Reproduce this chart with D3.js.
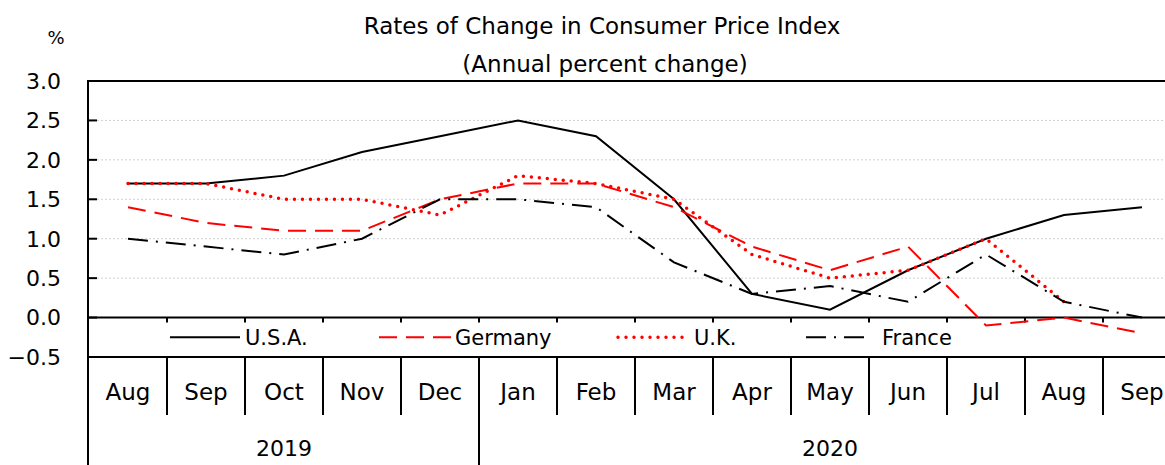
<!DOCTYPE html>
<html>
<head>
<script src="https://d3js.org/d3.v7.min.js"></script>
<style>
  body { margin: 0; background: #fff; }
  text { font-family: "DejaVu Sans", sans-serif; fill: #000; }
</style>
</head>
<body>
<script>
// Data
const months = ["Aug", "Sep", "Oct", "Nov", "Dec", "Jan", "Feb", "Mar", "Apr", "May", "Jun", "Jul", "Aug", "Sep"];
const years = [{ label: "2019", from: 0, to: 5 }, { label: "2020", from: 5, to: 14 }];
const usa = [1.7, 1.7, 1.8, 2.1, 2.3, 2.5, 2.3, 1.5, 0.3, 0.1, 0.6, 1.0, 1.3, 1.4];
const germany = [1.4, 1.2, 1.1, 1.1, 1.5, 1.7, 1.7, 1.4, 0.9, 0.6, 0.9, -0.1, 0.0, -0.2];
const uk = [1.7, 1.7, 1.5, 1.5, 1.3, 1.8, 1.7, 1.5, 0.8, 0.5, 0.6, 1.0, 0.2];
const france = [1.0, 0.9, 0.8, 1.0, 1.5, 1.5, 1.4, 0.7, 0.3, 0.4, 0.2, 0.8, 0.2, 0.0];
const yTicks = [3.0, 2.5, 2.0, 1.5, 1.0, 0.5, 0.0, -0.5];

const series = [
  { name: "U.S.A.", values: usa, color: "#000", dash: null, cap: "butt", lx: 170, len: 70, tx: 75 },
  { name: "Germany", values: germany, color: "#ff0000", dash: "18,9", cap: "butt", lx: 379, len: 72, tx: 76 },
  { name: "U.K.", values: uk, color: "#ff0000", dash: "0,8", cap: "round", lx: 618, len: 68, tx: 76, w: 3.5 },
  { name: "France", values: france, color: "#000", dash: "20,8,2,8", cap: "butt", lx: 806, len: 61, tx: 76 }
];

const W = 1165, H = 465;
const left = 89, bandW = 78;
const svg = d3.select("body").append("svg").attr("width", W).attr("height", H);

const x = d3.scaleBand().domain(d3.range(months.length)).range([left, left + bandW * months.length]);
const y = d3.scaleLinear().domain([-0.5, 3.0]).range([357, 81]);

// grid lines
svg.append("g").selectAll("line").data([2.5, 2.0, 1.5, 1.0, 0.5]).join("line")
  .attr("x1", left).attr("x2", W).attr("y1", d => y(d)).attr("y2", d => y(d))
  .attr("stroke", "#d0d0d0").attr("stroke-width", 1).attr("stroke-dasharray", "2,2");

// frame lines
svg.append("line").attr("x1", left).attr("x2", W).attr("y1", y(3)).attr("y2", y(3)).attr("stroke", "#000").attr("stroke-width", 2);
svg.append("line").attr("x1", left).attr("x2", W).attr("y1", y(0)).attr("y2", y(0)).attr("stroke", "#000").attr("stroke-width", 2);
svg.append("line").attr("x1", left).attr("x2", W).attr("y1", y(-0.5)).attr("y2", y(-0.5)).attr("stroke", "#000").attr("stroke-width", 2);
svg.append("line").attr("x1", left - 1).attr("x2", left - 1).attr("y1", y(3) - 1).attr("y2", H).attr("stroke", "#000").attr("stroke-width", 2);

// y ticks (inward) and labels
svg.append("g").selectAll("line").data(yTicks).join("line")
  .attr("x1", left).attr("x2", left + 8).attr("y1", d => y(d)).attr("y2", d => y(d))
  .attr("stroke", "#000").attr("stroke-width", 2);
svg.append("g").selectAll("text").data(yTicks).join("text")
  .attr("x", 61).attr("y", d => y(d)).attr("dy", "0.36em")
  .attr("text-anchor", "end").style("font-size", "22px")
  .text(d => (d < 0 ? "\u2212" + Math.abs(d).toFixed(1) : d.toFixed(1)));

// small ticks on zero line
svg.append("g").selectAll("line").data(d3.range(1, months.length)).join("line")
  .attr("x1", d => x(d)).attr("x2", d => x(d)).attr("y1", y(0)).attr("y2", y(0) + 5)
  .attr("stroke", "#000").attr("stroke-width", 2);

// month separators and labels
svg.append("g").selectAll("line").data(d3.range(1, months.length)).join("line")
  .attr("x1", d => x(d)).attr("x2", d => x(d)).attr("y1", y(-0.5)).attr("y2", 415)
  .attr("stroke", "#000").attr("stroke-width", 2);
svg.append("g").selectAll("text").data(months).join("text")
  .attr("x", (d, i) => x(i) + bandW / 2).attr("y", 392).attr("dy", "0.36em")
  .attr("text-anchor", "middle").style("font-size", "23px").text(d => d);

// year row
svg.append("g").selectAll("line").data(years.slice(1)).join("line")
  .attr("x1", d => x(d.from)).attr("x2", d => x(d.from)).attr("y1", 415).attr("y2", H)
  .attr("stroke", "#000").attr("stroke-width", 2);
svg.append("g").selectAll("text").data(years).join("text")
  .attr("x", d => (x(d.from) + left + bandW * d.to) / 2).attr("y", 448).attr("dy", "0.36em")
  .attr("text-anchor", "middle").style("font-size", "22px").text(d => d.label);

// lines
const line = d3.line().x((d, i) => x(i) + bandW / 2).y(d => y(d));
svg.append("g").selectAll("path").data(series).join("path")
  .attr("d", d => line(d.values))
  .attr("fill", "none").attr("stroke", d => d.color)
  .attr("stroke-width", d => d.w || 2)
  .attr("stroke-dasharray", d => d.dash)
  .attr("stroke-linecap", d => d.cap);

// legend
const lg = svg.append("g").selectAll("g").data(series).join("g")
  .attr("transform", d => `translate(${d.lx},${y(-0.25)})`);
lg.append("line").attr("x1", 0).attr("x2", d => d.len).attr("y1", 0).attr("y2", 0)
  .attr("stroke", d => d.color).attr("stroke-width", d => d.w || 2)
  .attr("stroke-dasharray", d => d.dash).attr("stroke-linecap", d => d.cap);
lg.append("text").attr("x", d => d.tx).attr("y", 0).attr("dy", "0.36em")
  .style("font-size", "21px").text(d => d.name);

// titles
svg.append("text").attr("x", 602).attr("y", 26).attr("dy", "0.36em").attr("text-anchor", "middle")
  .style("font-size", "23px").text("Rates of Change in Consumer Price Index");
svg.append("text").attr("x", 605).attr("y", 64).attr("dy", "0.36em").attr("text-anchor", "middle")
  .style("font-size", "23px").text("(Annual percent change)");
svg.append("text").attr("x", 56).attr("y", 38).attr("dy", "0.36em").attr("text-anchor", "middle")
  .style("font-size", "18px").text("%");
</script>
</body>
</html>
